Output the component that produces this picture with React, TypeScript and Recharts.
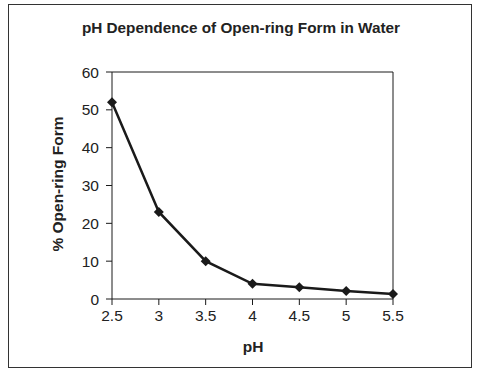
import * as React from 'react';
import { LineChart, Line, XAxis, YAxis, ReferenceLine } from 'recharts';

const phValues = [2.5, 3, 3.5, 4, 4.5, 5, 5.5];
const openRingPct = [52, 23, 10, 4, 3.1, 2.1, 1.3];
const xTicks = [2.5, 3, 3.5, 4, 4.5, 5, 5.5];
const yTicks = [0, 10, 20, 30, 40, 50, 60];

const data = phValues.map((ph, i) => ({ ph, pct: openRingPct[i] }));

const Diamond = (props: any) => {
  const { cx, cy, index } = props;
  const r = 5;
  return (
    <polygon
      key={`d-${index}`}
      points={`${cx},${cy - r} ${cx + r},${cy} ${cx},${cy + r} ${cx - r},${cy}`}
      fill="#1a1a1a"
    />
  );
};

const font = 'Liberation Sans, Arial, Helvetica, sans-serif';

export default function App() {
  return (
    <div style={{ position: 'absolute', left: 0, top: 0, width: 478, height: 374, background: '#fff', fontFamily: font }}>
      <div style={{ position: 'absolute', left: 8, top: 4, width: 464, height: 364, border: '1.5px solid #333', boxSizing: 'border-box' }} />
      <div style={{ position: 'absolute', left: 0, width: 482, top: 19, textAlign: 'center', fontWeight: 'bold', fontSize: 15.3, color: '#222' }}>
        pH Dependence of Open-ring Form in Water
      </div>
      <div style={{ position: 'absolute', left: 58, top: 184, transform: 'translate(-50%, -50%) rotate(-90deg)', whiteSpace: 'nowrap', fontWeight: 'bold', fontSize: 15.5, color: '#222' }}>
        % Open-ring Form
      </div>
      <div style={{ position: 'absolute', left: 253, top: 347, transform: 'translate(-50%, -50%)', fontWeight: 'bold', fontSize: 15.5, color: '#222' }}>
        pH
      </div>
      <LineChart
        width={478}
        height={374}
        data={data}
        margin={{ top: 72, right: 85, left: 62, bottom: 45 }}
        style={{ position: 'absolute', left: 0, top: 0 }}
      >
        <XAxis
          dataKey="ph"
          type="number"
          domain={[2.5, 5.5]}
          ticks={xTicks}
          height={30}
          stroke="#1a1a1a"
          tickSize={6}
          tickMargin={5}
          fontSize={15.5}
          fontFamily={font}
          tick={{ fill: '#222', fontSize: 15.5 }}
          interval={0}
        />
        <YAxis
          type="number"
          domain={[0, 60]}
          ticks={yTicks}
          width={50}
          stroke="#1a1a1a"
          tickSize={6}
          tickMargin={7}
          fontSize={15.5}
          fontFamily={font}
          tick={{ fill: '#222', fontSize: 15.5 }}
          interval={0}
        />
        <ReferenceLine y={60} stroke="#1a1a1a" />
        <ReferenceLine x={5.5} stroke="#1a1a1a" />
        <Line
          type="linear"
          dataKey="pct"
          stroke="#1a1a1a"
          strokeWidth={2.5}
          dot={Diamond}
          activeDot={false}
          isAnimationActive={false}
        />
      </LineChart>
    </div>
  );
}
